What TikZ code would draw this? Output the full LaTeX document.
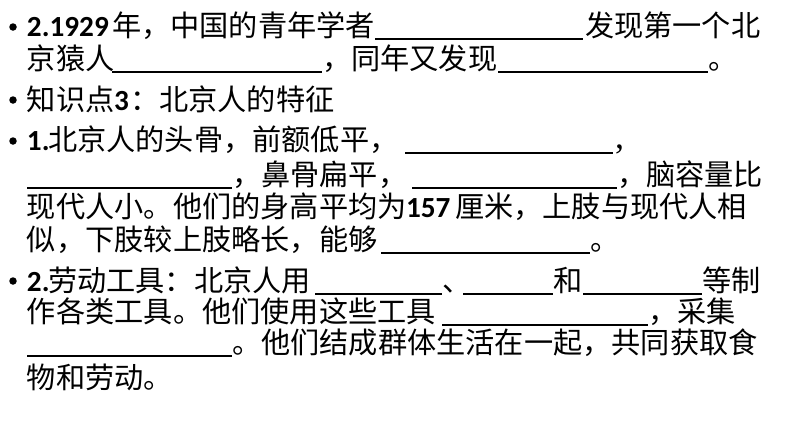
\documentclass[tikz,border=0pt]{standalone}
\usepackage{fontspec}
\newfontfamily\cjk{Noto Sans CJK SC}
\newfontfamily\bnum{Carlito}
\newfontfamily\lserif{Liberation Serif}
\tikzset{
  txt/.style={anchor=base west, inner sep=0pt, outer sep=0pt, font=\cjk\fontsize{29.2}{29.2}\selectfont},
  num/.style={anchor=base west, inner sep=0pt, outer sep=0pt, font=\bnum\bfseries\fontsize{29.2}{29.2}\selectfont},
  blank/.style={line width=2pt, black},
  bullet/.style={circle, fill=black, inner sep=0pt, minimum size=7.5pt}
}
\begin{document}
\begin{tikzpicture}[x=1pt,y=-1pt]
\useasboundingbox[fill=white] (0,0) rectangle (794,447);
% bullets
\node[bullet] (b1) at (13,27) {};
\node[bullet] (b2) at (13,100) {};
\node[bullet] (b3) at (13,141) {};
\node[bullet] (b4) at (13,281) {};
% line 1
\node[num] (l1a) at (27,36) {2.1929};
\node[txt] (l1b) at (112,36) {年，中国的青年学者};
\draw[blank] (375,39) -- (583,39);
\node[txt] (l1c) at (585,36) {发现第一个北};
% line 2
\node[txt] (l2a) at (27,69) {京猿人};
\draw[blank] (112,72) -- (322,72);
\node[txt] (l2b) at (322,69) {，同年又发现};
\draw[blank] (498,72) -- (708,72);
\node[txt] (l2c) at (708,69) {。};
% line 3
\node[txt] (l3a) at (27,110) {知识点};
\node[num] (l3b) at (114,110) {3};
\node[txt] (l3c) at (130,110) {：北京人的特征};
% line 4
\node[num] (l4a) at (27,150) {1.};
\node[txt] (l4b) at (48,150) {北京人的头骨，前额低平，};
\draw[blank] (405,153) -- (613,153);
\node[anchor=base west, inner sep=0pt, font=\lserif\fontsize{36}{36}\selectfont] (l4c) at (615,148) {,};
% line 5
\draw[blank] (27,188) -- (232,188);
\node[txt] (l5a) at (232,185) {，鼻骨扁平，};
\draw[blank] (412,188) -- (617,188);
\node[txt] (l5b) at (617,185) {，脑容量比};
% line 6
\node[txt] (l6a) at (27,217) {现代人小。他们的身高平均为};
\node[num] (l6b) at (406,217) {157};
\node[txt] (l6c) at (455,217) {厘米，上肢与现代人相};
% line 7
\node[txt] (l7a) at (27,250) {似，下肢较上肢略长，能够};
\draw[blank] (381,253) -- (590,253);
\node[txt] (l7b) at (590,250) {。};
% line 8
\node[num] (l8a) at (27,291) {2.};
\node[txt] (l8b) at (48,291) {劳动工具：北京人用};
\draw[blank] (315,294) -- (442,294);
\node[txt] (l8c) at (442,291) {、};
\draw[blank] (463,294) -- (553,294);
\node[txt] (l8d) at (553,291) {和};
\draw[blank] (583,294) -- (702,294);
\node[txt] (l8e) at (702,291) {等制};
% line 9
\node[txt] (l9a) at (27,322) {作各类工具。他们使用这些工具};
\draw[blank] (442,325) -- (648,325);
\node[txt] (l9b) at (648,322) {，采集};
% line 10
\draw[blank] (27,356) -- (232,356);
\node[txt] (l10a) at (232,353) {。他们结成群体生活在一起，共同获取食};
% line 11
\node[txt] (l11a) at (27,388) {物和劳动。};
\end{tikzpicture}
\end{document}
